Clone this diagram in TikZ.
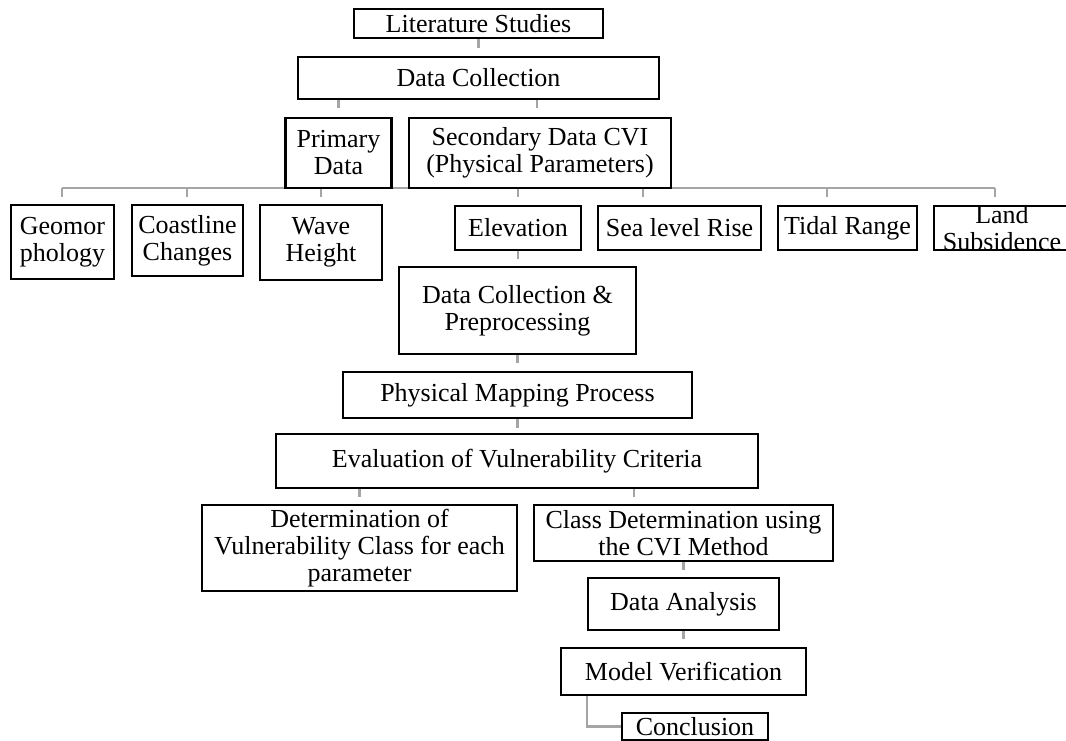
\documentclass[tikz,border=0pt]{standalone}
\usepackage{fontspec}
\setmainfont{Liberation Serif}
\usetikzlibrary{backgrounds,calc}
\definecolor{conngray}{RGB}{165,165,165}
\begin{document}
\begin{tikzpicture}[x=1pt,y=-1pt,
  box/.style={draw=black, line width=2.8pt, fill=white, inner sep=0pt, outer sep=0pt, align=center,
    font=\fontsize{26}{27}\selectfont},
  conn/.style={draw=conngray, line width=2.8pt}]
\useasboundingbox (0,0) rectangle (1066,740);

% ---- boxes ----
\node[box, minimum width=249, minimum height=29] (ls) at (478.5,23.5) {Literature Studies};
\node[box, minimum width=361, minimum height=42] (dc) at (478.5,78) {Data Collection};
\node[box, minimum width=106, minimum height=70] (pd) at (338.5,153) {Primary\\Data};
\node[box, minimum width=262, minimum height=70] (sd) at (540,153) {Secondary Data CVI\\(Physical Parameters)};

\node[box, minimum width=103, minimum height=74] (geo) at (62.5,242) {Geomor\\phology};
\node[box, minimum width=111, minimum height=71] (coast) at (187.5,240.5) {Coastline\\Changes};
\node[box, minimum width=122, minimum height=75] (wave) at (321,242.5) {Wave\\Height};
\node[box, minimum width=126, minimum height=44] (elev) at (518,228) {Elevation};
\node[box, minimum width=163, minimum height=44] (sea) at (679.5,228) {Sea level Rise};
\node[box, minimum width=139, minimum height=44] (tidal) at (847.5,228) {Tidal Range};
\node[box, minimum width=136, minimum height=44, inner ysep=-1pt] (land) at (1002,228) {Land\\Subsidence};

\node[box, minimum width=237, minimum height=87] (dcp) at (517.5,310.5) {Data Collection \&\\Preprocessing};
\node[box, minimum width=349, minimum height=46] (pmp) at (517.5,395) {Physical Mapping Process};
\node[box, minimum width=482, minimum height=54] (eval) at (517,461) {Evaluation of Vulnerability Criteria};

\node[box, minimum width=315, minimum height=86] (det) at (359.5,548) {Determination of\\Vulnerability Class for each\\parameter};
\node[box, minimum width=299, minimum height=56] (cls) at (683.5,533) {Class Determination using\\the CVI Method};
\node[box, minimum width=191, minimum height=52] (da) at (683.5,604) {Data Analysis};
\node[box, minimum width=245, minimum height=47] (mv) at (683.5,671.5) {Model Verification};
\node[box, minimum width=146, minimum height=27] (conc) at (695,726.5) {Conclusion};

% ---- connector anchor points ----
\coordinate (b1) at (62,188);
\coordinate (b2) at (187,188);
\coordinate (b3) at (321,188);
\coordinate (b4) at (518,188);
\coordinate (b5) at (643,188);
\coordinate (b6) at (827,188);
\coordinate (b7) at (995,188);
\coordinate (dct) at (537,99);
\coordinate (ec) at (634,488);
\coordinate (mvl) at (587,695);

% ---- connectors ----
\begin{scope}[on background layer]
  \draw[conn] (ls.south) -- ++(0,10);
  \draw[conn] (pd.north |- dct) -- (dct);
  \draw[conn] (pd.north |- dct) -- ++(0,9);
  \draw[conn] (dct) -- ++(0,9);
  \draw[conn] (b1) -- (b7);
  \foreach \b in {b1,b2,b3,b4,b5,b6,b7} \draw[conn] (\b) -- ++(0,9);
  \draw[conn] (elev.south) -- ++(0,9);
  \draw[conn] (dcp.south) -- ++(0,9);
  \draw[conn] (pmp.south) -- ++(0,10);
  \draw[conn] (det.north |- ec) -- (ec);
  \draw[conn] (det.north |- ec) -- ++(0,9);
  \draw[conn] (ec) -- ++(0,9);
  \draw[conn] (cls.south) -- ++(0,9);
  \draw[conn] (da.south) -- ++(0,9);
  \draw[conn] (mvl) |- (conc.west);
\end{scope}
\end{tikzpicture}
\end{document}
